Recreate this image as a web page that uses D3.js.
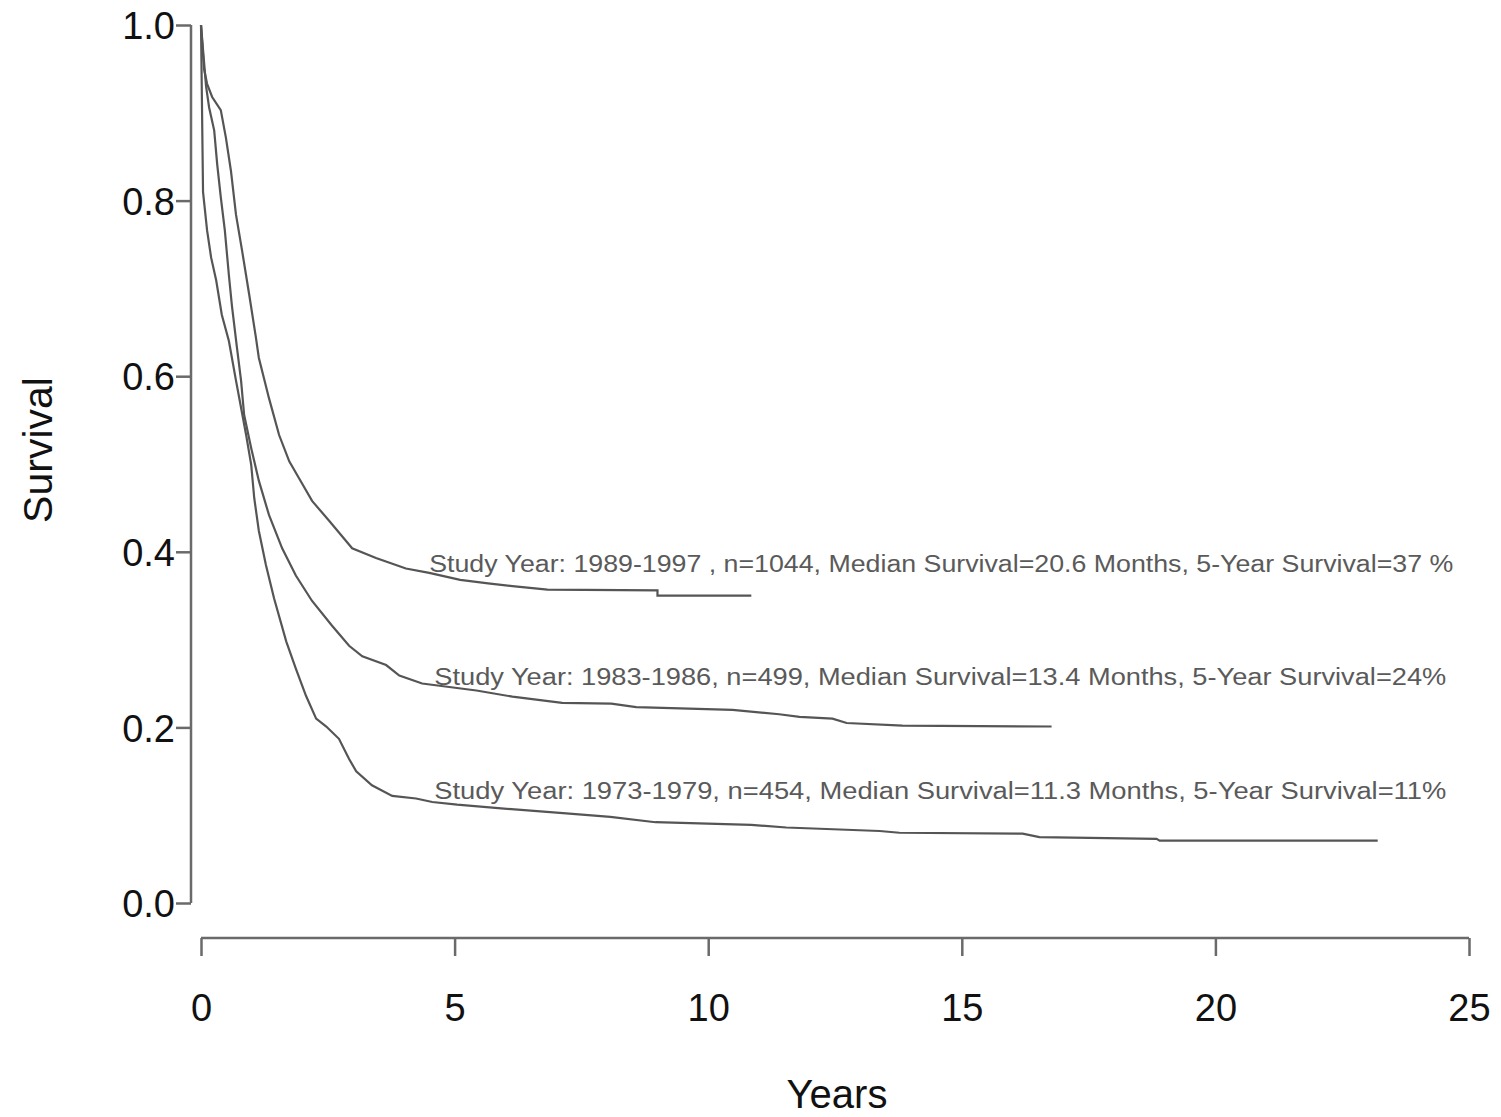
<!DOCTYPE html>
<html>
<head>
<meta charset="utf-8">
<script src="https://cdn.jsdelivr.net/npm/d3@7"></script>
<style>
  body { margin: 0; background: #fff; }
  svg { display: block; }
  .lbl { font-family: "Liberation Sans", Arial, sans-serif; fill: #111; }
</style>
</head>
<body>
<svg></svg>
<script>
var width = 1501;
var height = 1117;

// Kaplan-Meier curves: [years, survival]
var s1989 = [[0,1.0],[0.06,0.95],[0.12,0.933],[0.22,0.918],[0.39,0.903],[0.49,0.872],[0.59,0.834],[0.69,0.784],
  [0.81,0.743],[0.95,0.693],[1.08,0.645],[1.14,0.621],[1.34,0.575],[1.54,0.533],[1.74,0.503],[1.93,0.484],
  [2.19,0.458],[2.53,0.435],[2.98,0.404],[3.45,0.393],[4.04,0.381],[4.5,0.376],[5.11,0.368],[5.66,0.364],
  [6.14,0.361],[6.83,0.357],[9.0,0.356],[9.0,0.350],[10.85,0.350]];
var s1983 = [[0,1.0],[0.1,0.93],[0.16,0.906],[0.26,0.880],[0.32,0.841],[0.39,0.804],[0.47,0.766],[0.55,0.715],
  [0.61,0.680],[0.71,0.632],[0.79,0.595],[0.85,0.556],[0.99,0.518],[1.14,0.481],[1.34,0.442],[1.6,0.404],
  [1.87,0.373],[2.19,0.344],[2.58,0.316],[2.92,0.293],[3.18,0.281],[3.65,0.271],[3.91,0.259],[4.36,0.250],
  [5.43,0.242],[6.14,0.235],[7.12,0.228],[8.09,0.227],[8.58,0.223],[10.48,0.220],[11.4,0.215],[11.8,0.212],
  [12.45,0.210],[12.73,0.205],[13.83,0.202],[16.77,0.201]];
var s1973 = [[0,1.0],[0.04,0.81],[0.12,0.766],[0.2,0.735],[0.3,0.709],[0.41,0.670],[0.55,0.640],[0.69,0.595],
  [0.79,0.564],[0.89,0.533],[0.99,0.499],[1.05,0.461],[1.14,0.424],[1.28,0.385],[1.44,0.347],[1.68,0.298],
  [1.87,0.267],[2.07,0.236],[2.27,0.210],[2.47,0.201],[2.72,0.187],[2.92,0.164],[3.06,0.150],[3.37,0.134],
  [3.77,0.122],[4.24,0.119],[4.56,0.115],[5.05,0.112],[6.31,0.106],[7.2,0.102],[8.07,0.098],[8.96,0.092],
  [10.85,0.089],[11.54,0.086],[13.38,0.082],[13.77,0.080],[16.2,0.079],[16.53,0.075],[18.84,0.073],
  [18.9,0.071],[23.2,0.071]];

var labels = [
  "Study Year: 1989-1997 , n=1044, Median Survival=20.6 Months, 5-Year Survival=37 %",
  "Study Year: 1983-1986, n=499, Median Survival=13.4 Months, 5-Year Survival=24%",
  "Study Year: 1973-1979, n=454, Median Survival=11.3 Months, 5-Year Survival=11%"
];
var labelAt = [[4.5, 0.377], [4.6, 0.248], [4.6, 0.118]];
var yTicks = [0, 0.2, 0.4, 0.6, 0.8, 1.0];
var xTicks = [0, 5, 10, 15, 20, 25];

var svg = d3.select("svg").attr("width", width).attr("height", height);

var x = d3.scaleLinear().domain([0, 25]).range([201, 1469]);
var y = d3.scaleLinear().domain([0, 1]).range([903, 25]);

// y axis
var yAxis = svg.append("g").attr("transform", "translate(191,0)")
  .call(d3.axisLeft(y).tickValues(yTicks).tickFormat(d3.format(".1f")).tickSize(15).tickPadding(1));
yAxis.select(".domain").attr("stroke", "#6a6a6a").attr("stroke-width", 2.5).attr("d", "M0," + y(0) + "V" + y(1));
yAxis.selectAll(".tick line").attr("stroke", "#6a6a6a").attr("stroke-width", 2.5);
yAxis.selectAll(".tick text").attr("class", "lbl").attr("font-size", 38).attr("dy", "0.36em");

// x axis
var xAxis = svg.append("g").attr("transform", "translate(0,938)")
  .call(d3.axisBottom(x).tickValues(xTicks).tickSize(18).tickPadding(38));
xAxis.select(".domain").attr("stroke", "#6a6a6a").attr("stroke-width", 2.5).attr("d", "M" + x(0) + ",0H" + x(25));
xAxis.selectAll(".tick line").attr("stroke", "#6a6a6a").attr("stroke-width", 2.5);
xAxis.selectAll(".tick text").attr("class", "lbl").attr("font-size", 38);

svg.append("text").attr("class", "lbl").attr("x", 837).attr("y", 1108)
  .attr("text-anchor", "middle").attr("font-size", 40).text("Years");
svg.append("text").attr("class", "lbl").attr("transform", "translate(52,450) rotate(-90)")
  .attr("text-anchor", "middle").attr("font-size", 41).text("Survival");

var line = d3.line().x(function(d) { return x(d[0]); }).y(function(d) { return y(d[1]); });

[s1989, s1983, s1973].forEach(function(s) {
  svg.append("path").datum(s).attr("d", line)
    .attr("fill", "none").attr("stroke", "#555").attr("stroke-width", 2.2);
});

var labelWidth = [1024, 1012, 1012];
labels.forEach(function(t, i) {
  svg.append("text").attr("class", "lbl")
    .attr("x", x(labelAt[i][0])).attr("y", y(labelAt[i][1]))
    .attr("font-size", 23)
    .attr("textLength", labelWidth[i]).attr("lengthAdjust", "spacingAndGlyphs")
    .style("fill", "#5a5a5a")
    .text(t);
});
</script>
</body>
</html>
